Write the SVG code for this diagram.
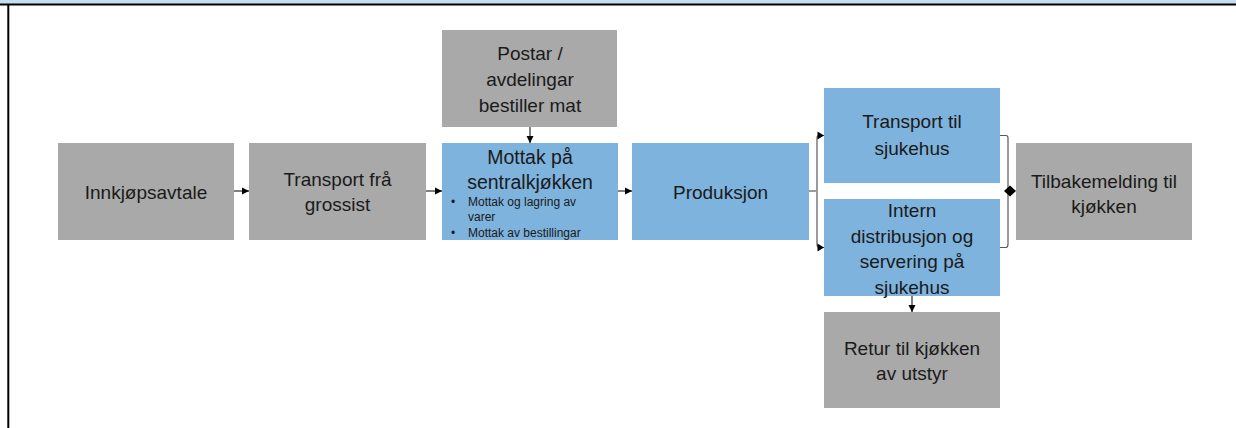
<svg xmlns="http://www.w3.org/2000/svg" width="1236" height="428" viewBox="0 0 1236 428">
<defs>
<style>
.g{fill:#A9A9A9;}
.b{fill:#7EB3DD;}
.t{font-family:"Liberation Sans",Arial,sans-serif;font-size:19px;fill:#1a1a1a;text-anchor:middle;}
.tl{font-family:"Liberation Sans",Arial,sans-serif;font-size:19.5px;fill:#1a1a1a;text-anchor:middle;}
.s{font-family:"Liberation Sans",Arial,sans-serif;font-size:12px;fill:#1a1a1a;}
.c{fill:none;stroke:#000;stroke-width:1;}
.br{fill:none;stroke:#595959;stroke-width:1.2;}
</style>
<marker id="ah" markerWidth="8" markerHeight="8" refX="7" refY="4" orient="auto" markerUnits="userSpaceOnUse">
<path d="M0,0.5 L7,4 L0,7.5 Z" fill="#000"/>
</marker>
</defs>
<rect x="0" y="0" width="1236" height="4" fill="#C5DDF0"/>
<rect x="0" y="3.5" width="1236" height="2" fill="#000"/>
<rect x="7.3" y="4" width="2" height="424" fill="#000"/>

<g id="innkjop"><rect class="g" x="58" y="143" width="176" height="97"/><text class="t" x="146" y="199">Innkjøpsavtale</text></g>
<g id="transport-grossist"><rect class="g" x="249" y="143" width="177" height="97"/><text class="t" x="337.5" y="186">Transport frå</text><text class="t" x="337.5" y="211">grossist</text></g>
<g id="postar"><rect class="g" x="442" y="30" width="175" height="97"/><text class="t" x="530" y="60">Postar /</text><text class="t" x="530" y="86">avdelingar</text><text class="t" x="530" y="112">bestiller mat</text></g>
<g id="mottak"><rect class="b" x="442" y="143" width="176" height="97"/><text class="tl" x="530" y="164">Mottak på</text><text class="tl" x="530" y="189">sentralkjøkken</text>
<text class="s" x="451" y="206">•</text><text class="s" x="468" y="206">Mottak og lagring av</text><text class="s" x="468" y="221">varer</text>
<text class="s" x="451" y="237">•</text><text class="s" x="468" y="237">Mottak av bestillingar</text></g>
<g id="produksjon"><rect class="b" x="632" y="143" width="177" height="97"/><text class="t" x="720.5" y="199">Produksjon</text></g>
<g id="transport-sjukehus"><rect class="b" x="824" y="88" width="176" height="95"/><text class="t" x="912" y="128">Transport til</text><text class="t" x="912" y="155">sjukehus</text></g>
<g id="intern"><rect class="b" x="824" y="199" width="176" height="97"/><text class="t" x="912" y="217">Intern</text><text class="t" x="912" y="243">distribusjon og</text><text class="t" x="912" y="268">servering på</text><text class="t" x="912" y="294">sjukehus</text></g>
<g id="retur"><rect class="g" x="824" y="312" width="176" height="96"/><text class="t" x="912" y="355">Retur til kjøkken</text><text class="t" x="912" y="380">av utstyr</text></g>
<g id="tilbakemelding"><rect class="g" x="1016" y="143" width="176" height="97"/><text class="t" x="1104" y="188">Tilbakemelding til</text><text class="t" x="1104" y="213">kjøkken</text></g>

<g id="connectors">
<line class="c" x1="234" y1="191" x2="249" y2="191" marker-end="url(#ah)"/>
<line class="c" x1="426" y1="191" x2="442" y2="191" marker-end="url(#ah)"/>
<line class="c" x1="530" y1="127" x2="530" y2="143" marker-end="url(#ah)"/>
<line class="c" x1="618" y1="191" x2="632" y2="191" marker-end="url(#ah)"/>
<line class="c" x1="912" y1="296" x2="912" y2="312" marker-end="url(#ah)"/>
<path class="br" d="M809,191 H816"/>
<path class="br" d="M824,135.5 H819 Q817,135.5 817,138 V244 Q817,247.5 819,247.5 H824"/>
<path d="M817.5,131.5 L824,135.5 L817.5,139.5 Z" fill="#000"/>
<path d="M817.5,243.5 L824,247.5 L817.5,251.5 Z" fill="#000"/>
<path class="br" d="M1000,135.5 H1006 Q1008,135.5 1008,138 V244 Q1008,247.5 1006,247.5 H1000"/>
<path d="M1004,191 L1010,185.5 L1016,191 L1010,196.5 Z" fill="#000"/>
</g>
</svg>
